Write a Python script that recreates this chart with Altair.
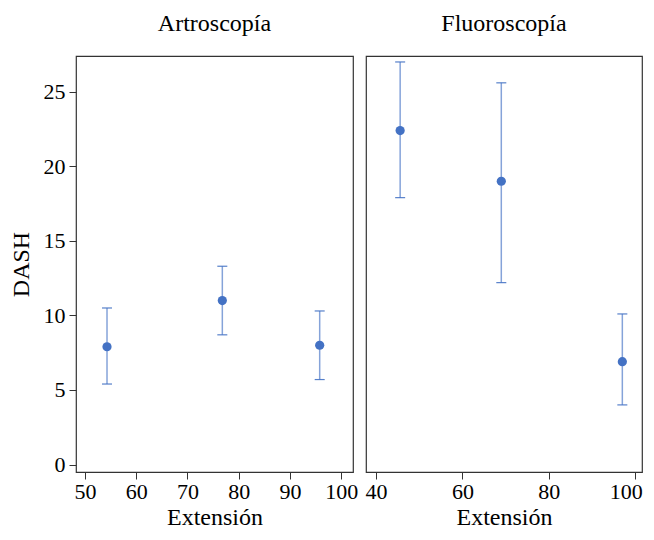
import altair as alt
import pandas as pd

panels = ["Artroscopía"] * 3 + ["Fluoroscopía"] * 3
extension = [54.3, 76.8, 95.8, 45.6, 69.0, 97.0]
dash_mean = [7.9, 11.0, 8.0, 22.4, 19.0, 6.9]
dash_low = [5.4, 8.7, 5.7, 17.9, 12.2, 4.0]
dash_high = [10.5, 13.3, 10.3, 27.0, 25.6, 10.1]

df = pd.DataFrame({
    "panel": panels,
    "Extensión": extension,
    "DASH": dash_mean,
    "lo": dash_low,
    "hi": dash_high,
})

FONT = "Liberation Serif"
BLUE = "#4472C4"
Y_DOMAIN = [-0.5, 27.4]


def panel_chart(name, x_domain, x_ticks, show_y, width, flush=False):
    d = df[df["panel"] == name]
    base = alt.Chart(d)
    if flush:
        xax = alt.Axis(values=x_ticks, title="Extensión", labelFlush=8, labelFlushOffset=7)
    else:
        xax = alt.Axis(values=x_ticks, title="Extensión")
    x = alt.X("Extensión:Q", scale=alt.Scale(domain=x_domain, nice=False, zero=False), axis=xax)
    if show_y:
        yax = alt.Axis(values=[0, 5, 10, 15, 20, 25], title="DASH")
    else:
        yax = None
    y = alt.Y("DASH:Q", scale=alt.Scale(domain=Y_DOMAIN, nice=False, zero=False), axis=yax)
    rule = base.mark_rule(color=BLUE, strokeWidth=1.5, opacity=0.65).encode(
        x=x, y=alt.Y("lo:Q"), y2="hi:Q")
    cap_lo = base.mark_tick(color=BLUE, orient="horizontal", size=10, thickness=1.2, opacity=0.9).encode(
        x=x, y=alt.Y("lo:Q"))
    cap_hi = base.mark_tick(color=BLUE, orient="horizontal", size=10, thickness=1.2, opacity=0.9).encode(
        x=x, y=alt.Y("hi:Q"))
    pts = base.mark_circle(color=BLUE, size=85, opacity=1).encode(x=x, y=y)
    return alt.layer(pts, rule, cap_lo, cap_hi).properties(
        width=width, height=416,
        title=alt.TitleParams(name, font=FONT, fontSize=24, fontWeight="normal",
                              color="black", offset=20),
    )


left = panel_chart("Artroscopía", [48.25, 102.3], [50, 60, 70, 80, 90, 100], True, 277)
right = panel_chart("Fluoroscopía", [37.7, 101.55], [40, 60, 80, 100], False, 276, flush=True)

chart = alt.hconcat(left, right, spacing=5).properties(
    padding={"left": 0, "top": 3, "right": 0, "bottom": 0}
).configure_view(
    stroke="#333333", strokeWidth=1.2
).configure_axis(
    labelFont=FONT, labelFontSize=22, labelColor="black",
    titleFont=FONT, titleFontSize=24, titleFontWeight="normal", titleColor="black",
    tickColor="#333333", tickSize=7, domain=False, grid=False, labelPadding=4,
).configure_axisX(titlePadding=3, labelPadding=2).configure_axisY(titlePadding=10)

chart.save("out.html", embed_options={"renderer": "svg", "actions": False})
